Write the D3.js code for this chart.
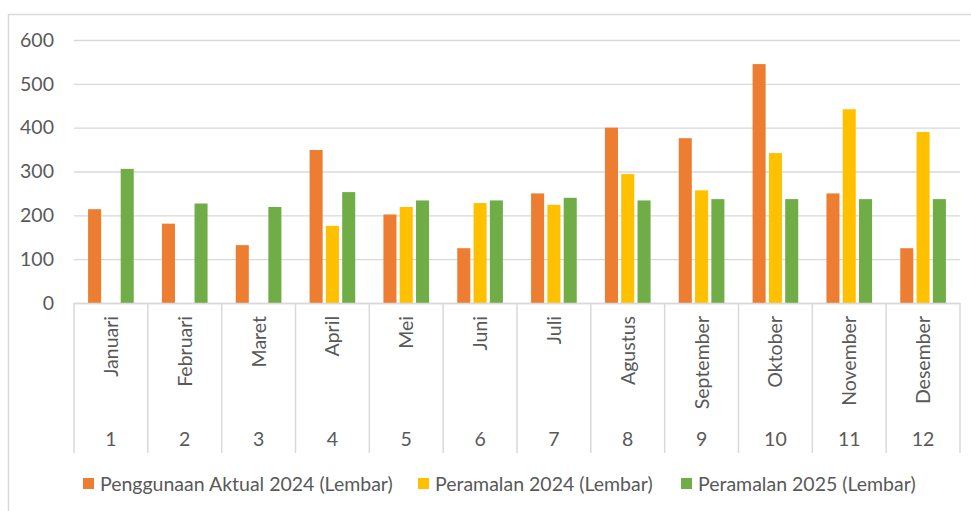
<!DOCTYPE html>
<html>
<head>
<meta charset="utf-8">
<script src="https://cdn.jsdelivr.net/npm/d3@7"></script>
<style>
  body { margin: 0; background: #fff; }
  svg { display: block; font-family: Lato, "Open Sans", sans-serif; }
</style>
</head>
<body>
<svg id="chart" width="971" height="511"></svg>
<script>
// data
let bulan = ["Januari", "Februari", "Maret", "April", "Mei", "Juni", "Juli", "Agustus", "September", "Oktober", "November", "Desember"]
let nomor = ["1", "2", "3", "4", "5", "6", "7", "8", "9", "10", "11", "12"]
let seriesNames = ["Penggunaan Aktual 2024 (Lembar)", "Peramalan 2024 (Lembar)", "Peramalan 2025 (Lembar)"]
let aktual2024 = [214, 181, 132, 349, 202, 125, 250, 400, 376, 545, 250, 125]
let ramal2024 = [null, null, null, 176, 219, 228, 224, 294, 257, 342, 442, 390]
let ramal2025 = [306, 227, 219, 253, 234, 234, 240, 234, 237, 237, 237, 237]
let yTicks = [0, 100, 200, 300, 400, 500, 600]
let colors = ["#ED7D31", "#FFC000", "#70AD47"]

let svg = d3.select("#chart")
let textColor = "#595959"
let gridColor = "#d9d9d9"
let fontSize = "19.5px"

// chart frame
svg.append("rect")
    .attr("x", 8.5).attr("y", 14.5)
    .attr("width", 1000).attr("height", 600)
    .attr("fill", "none")
    .attr("stroke", gridColor)
    .attr("stroke-width", 1.5)

let plotLeft = 74, plotRight = 960, plotTop = 40, plotBottom = 303

let x = d3.scaleBand().domain(bulan).range([plotLeft, plotRight])
let x1 = d3.scaleBand().domain(seriesNames).range([0, x.bandwidth()])
    .paddingInner(0.2).paddingOuter(0.865)
let y = d3.scaleLinear().domain([0, 600]).range([plotBottom, plotTop])

// gridlines + y labels
let yAxis = svg.append("g")
    .attr("transform", "translate(" + plotLeft + ",0)")
    .call(d3.axisLeft(y).tickValues(yTicks).tickSize(-(plotRight - plotLeft)).tickPadding(20))
yAxis.select(".domain").remove()
yAxis.selectAll("line").attr("stroke", gridColor).attr("stroke-width", 1.3)
yAxis.selectAll("text")
    .attr("fill", textColor)
    .attr("font-size", fontSize)
    .attr("font-family", "Lato, sans-serif")

// bars
let rows = bulan.map((b, i) => ({ bulan: b, vals: [aktual2024[i], ramal2024[i], ramal2025[i]] }))

let groups = svg.append("g").selectAll("g")
    .data(rows)
    .enter().append("g")
    .attr("transform", d => "translate(" + x(d.bulan) + ",0)")

groups.selectAll("rect")
    .data(d => d.vals.map((v, k) => ({ name: seriesNames[k], v: v, k: k })).filter(e => e.v != null))
    .enter().append("rect")
    .attr("x", d => x1(d.name))
    .attr("width", x1.bandwidth())
    .attr("y", d => y(d.v))
    .attr("height", d => y(0) - y(d.v))
    .attr("fill", d => colors[d.k])

// category axis (two levels)
let axisG = svg.append("g")
axisG.append("line")
    .attr("x1", plotLeft).attr("x2", plotRight)
    .attr("y1", plotBottom + 0.5).attr("y2", plotBottom + 0.5)
    .attr("stroke", gridColor).attr("stroke-width", 1.5)

let bounds = bulan.map(b => x(b)).concat([plotRight])
axisG.selectAll(".divider")
    .data(bounds)
    .enter().append("line")
    .attr("class", "divider")
    .attr("x1", d => d).attr("x2", d => d)
    .attr("y1", plotBottom).attr("y2", 453)
    .attr("stroke", gridColor).attr("stroke-width", 1.5)

axisG.selectAll(".bulan")
    .data(bulan)
    .enter().append("text")
    .attr("class", "bulan")
    .attr("transform", d => "translate(" + (x(d) + x.bandwidth() / 2 + 7) + ",316) rotate(-90)")
    .attr("text-anchor", "end")
    .attr("fill", textColor)
    .attr("font-size", fontSize)
    .text(d => d)

axisG.selectAll(".nomor")
    .data(nomor)
    .enter().append("text")
    .attr("class", "nomor")
    .attr("x", (d, i) => x(bulan[i]) + x.bandwidth() / 2)
    .attr("y", 446)
    .attr("text-anchor", "middle")
    .attr("fill", textColor)
    .attr("font-size", fontSize)
    .text(d => d)

// legend
let legendX = [83, 418, 681]
let legend = svg.append("g").selectAll("g")
    .data(seriesNames)
    .enter().append("g")
    .attr("transform", (d, i) => "translate(" + legendX[i] + ",478)")

legend.append("rect")
    .attr("width", 11).attr("height", 11)
    .attr("fill", (d, i) => colors[i])

legend.append("text")
    .attr("x", 17).attr("y", 12.5)
    .attr("fill", textColor)
    .attr("font-size", fontSize)
    .text(d => d)
</script>
</body>
</html>
